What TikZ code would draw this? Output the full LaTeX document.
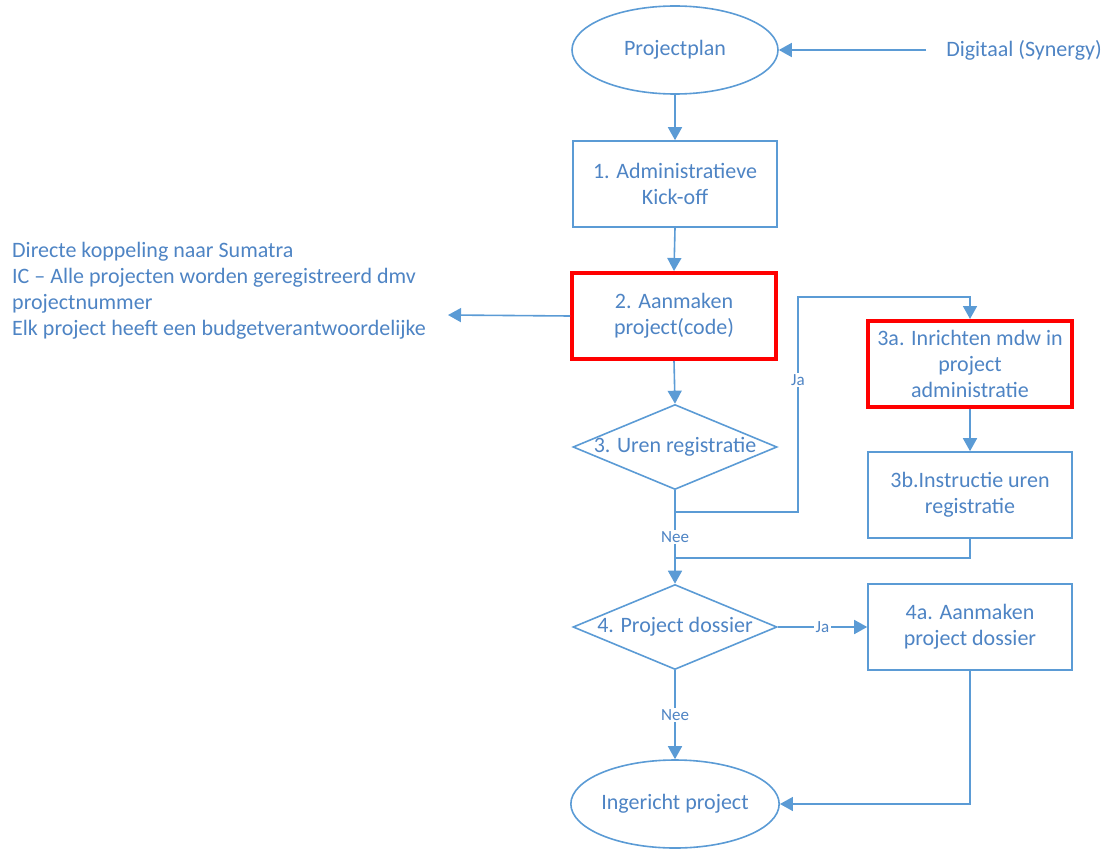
\documentclass[tikz,border=0pt]{standalone}
\usepackage{fontspec}
\setmainfont{Carlito}
\usetikzlibrary{shapes.geometric,arrows.meta}
\definecolor{lineblue}{HTML}{5B9BD5}
\definecolor{textblue}{HTML}{4E84C4}
\definecolor{markred}{HTML}{FF0000}
\begin{document}
\begin{tikzpicture}[x=1pt,y=-1pt,
        line/.style={draw=lineblue,line width=1.6pt},
        arrow/.style={line,-{Triangle[width=14pt,length=13pt]}},
        txt/.style={text=textblue,font=\fontsize{22}{26}\selectfont,align=center,inner sep=0pt},
        stepbox/.style={txt,draw=lineblue,line width=1.6pt,minimum width=204pt,minimum height=86pt},
        redbox/.style={stepbox,draw=markred,line width=4pt},
        oval/.style={txt,draw=lineblue,line width=1.6pt,ellipse,minimum width=206pt,minimum height=88pt},
        choice/.style={txt,draw=lineblue,line width=1.6pt,diamond,minimum width=204pt,minimum height=85pt},
        lbl/.style={text=textblue,font=\fontsize{17}{19}\selectfont,fill=white,inner sep=1.5pt}]
                \useasboundingbox (0,0) rectangle (1107,848);
                \node[oval] (plan) at (675,50) {Projectplan};
                \node[txt] (digitaal) at (1024,50) {Digitaal (Synergy)};
                \node[stepbox] (kick) at (675,184) {1. Administratieve\\Kick-off};
                \node[redbox] (code) at (674,316) {2. Aanmaken\\project(code)};
                \node[txt,anchor=west,align=left] (notes) at (12,291) {Directe koppeling naar Sumatra\\IC -- Alle projecten worden geregistreerd dmv\\projectnummer\\Elk project heeft een budgetverantwoordelijke};
                \coordinate (notesend) at (448,315);
                \node[choice] (uren) at (675,447) {\makebox[0pt]{3. Uren registratie}};
                \node[redbox] (inrichten) at (970,364) {3a. Inrichten mdw in\\project\\administratie};
                \node[stepbox] (instructie) at (970,495) {3b.Instructie uren\\registratie};
                \node[choice] (dossier) at (675,627) {\makebox[0pt]{4. Project dossier}};
                \node[stepbox] (aanmaken) at (970,627) {4a. Aanmaken\\project dossier};
                \node[oval] (ingericht) at (675,804) {Ingericht project};
                \coordinate (urenturn) at (675,512);
                \coordinate (jatop) at (798,297);
                \coordinate (join) at (675,558);

                \draw[arrow] ([xshift=-20pt]digitaal.west) -- (plan.east);
                \draw[arrow] (plan.south) -- (kick.north);
                \draw[arrow] (kick.south) -- (code.north);
                \draw[arrow] (code.west) -- (notesend);
                \draw[arrow] (code.south) -- (uren.north);
                \draw[arrow] (uren.south) -- (urenturn) -| (jatop) -| (inrichten.north);
                \node[lbl] (ja1) at (798,380) {Ja};
                \draw[arrow] (inrichten.south) -- (instructie.north);
                \draw[line] (instructie.south) |- (join);
                \draw[arrow] (uren.south) -- (dossier.north) node[lbl,midway] (nee1) {Nee};
                \draw[arrow] (dossier.east) -- (aanmaken.west) node[lbl,midway] (ja2) {Ja};
                \draw[arrow] (dossier.south) -- (ingericht.north) node[lbl,midway] (nee2) {Nee};
                \draw[arrow] (aanmaken.south) |- (ingericht.east);
            \end{tikzpicture}
\end{document}
